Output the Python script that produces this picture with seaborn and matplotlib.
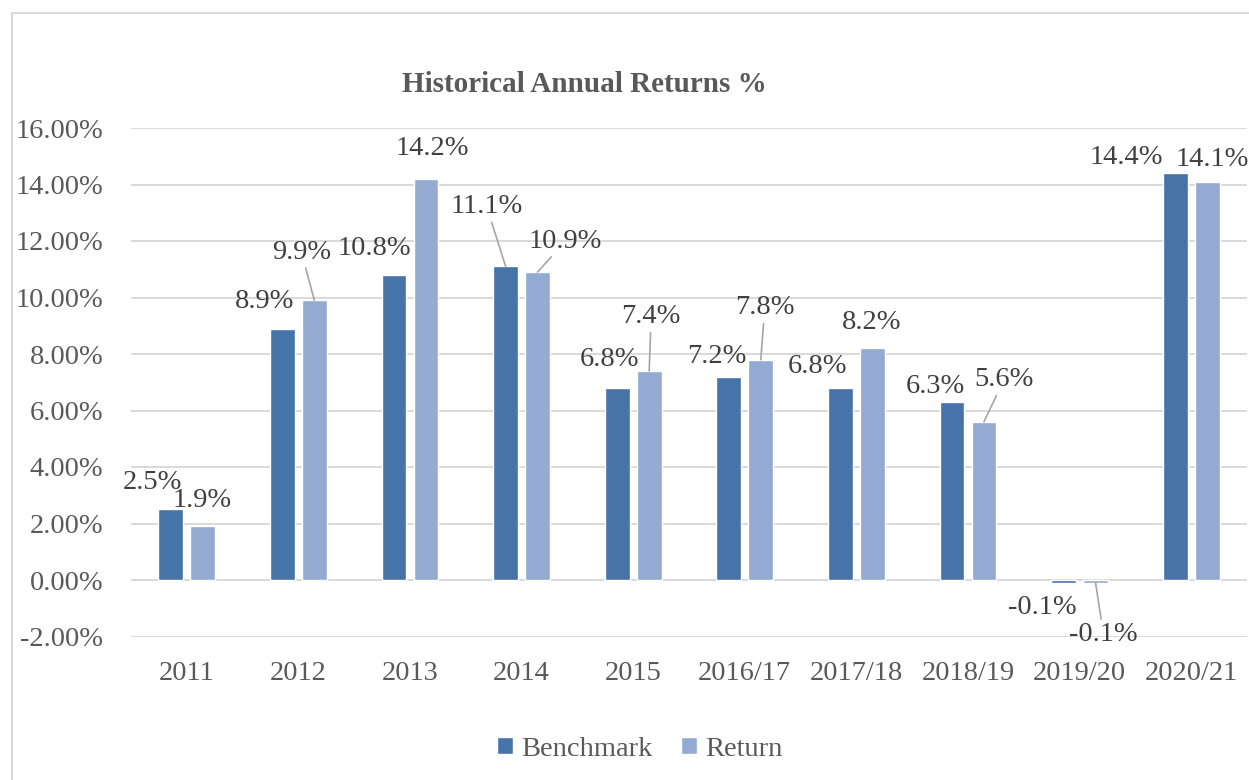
import numpy as np
import pandas as pd
import seaborn as sns
import matplotlib.pyplot as plt
from matplotlib.patches import Rectangle

periods = ['2011', '2012', '2013', '2014', '2015',
           '2016/17', '2017/18', '2018/19', '2019/20', '2020/21']
benchmark = [2.5, 8.9, 10.8, 11.1, 6.8, 7.2, 6.8, 6.3, -0.1, 14.4]
returns = [1.9, 9.9, 14.2, 10.9, 7.4, 7.8, 8.2, 5.6, -0.1, 14.1]
series = ['Benchmark', 'Return']

df = pd.DataFrame({
    'period': periods * 2,
    'value': benchmark + returns,
    'series': [series[0]] * len(periods) + [series[1]] * len(periods),
})

# label nudges in pixels (dx, dy, leader line) -- layout only
nudge = {
    'Benchmark': [(-18, -27, 0), (-18, -27, 0), (-20, -26, 0), (-19, -60, 1), (-8, -28, 0),
                  (-12, -20, 0), (-23, -21, 0), (-17, -16, 0), (-21, 25, 0), (-49, -16, 0)],
    'Return': [(-1, -26, 0), (-13, -48, 1), (6, -30, 0), (28, -31, 1), (2, -54, 1),
               (4, -52, 1), (-1, -26, 0), (20, -42, 1), (8, 52, 1), (5, -22, 0)],
}

sns.set_style('white')
plt.rcParams['font.family'] = ['Liberation Serif', 'DejaVu Serif']
FS = 20.5

fig = plt.figure(figsize=(12.49, 7.8), dpi=100)
ax = fig.add_axes([131 / 1249, 143.5 / 780, 1116 / 1249, 508.5 / 780])

sns.barplot(data=df, x='period', y='value', hue='series',
            palette=['#4673A8', '#94AAD2'], width=0.572, gap=0.22,
            saturation=1, ax=ax)

ax.set_ylim(-2, 16)
ax.set_yticks(np.arange(-2, 17, 2))
ax.set_yticklabels([f'{v:.2f}%' for v in np.arange(-2, 17, 2)])
ax.yaxis.grid(True, color='#D9D9D9', lw=1.4)
ax.set_axisbelow(True)
for s in ax.spines.values():
    s.set_visible(False)
ax.tick_params(axis='y', length=0, pad=20, labelsize=FS, labelcolor='#595959')
ax.tick_params(axis='x', length=0, pad=18, labelsize=FS, labelcolor='#595959')
ax.set_xlabel('')
ax.set_ylabel('')

for cont, name in zip(ax.containers, series):
    for bar, (dx, dy, lead) in zip(cont, nudge[name]):
        if bar.get_y() < 0:
            v = bar.get_y()
        else:
            v = bar.get_y() + bar.get_height()
        x = bar.get_x() + bar.get_width() / 2
        kw = {}
        if lead:
            kw['arrowprops'] = dict(arrowstyle='-', color='#A6A6A6', lw=1.2,
                                    shrinkA=0, shrinkB=0)
        ax.annotate(f'{v:.1f}%', xy=(x, v), xytext=(dx * 0.72, -dy * 0.72),
                    textcoords='offset points', ha='center', va='center',
                    fontsize=FS, color='#404040', **kw)

handles, labels = ax.get_legend_handles_labels()
ax.get_legend().remove()
fig.legend(handles, labels, loc='center', bbox_to_anchor=(640 / 1249, 1 - 749 / 780),
           ncol=2, frameon=False, fontsize=FS, labelcolor='#595959',
           handlelength=0.55, handleheight=0.55, handletextpad=0.3,
           columnspacing=1.0)

fig.text(584 / 1249, 1 - 85 / 780, 'Historical Annual Returns %', ha='center',
         va='center', fontsize=21, fontweight='bold', color='#595959')

fig.patches.append(Rectangle((12 / 1249, -0.1), 1.2, (767 / 780) + 0.1,
                             transform=fig.transFigure, fill=False,
                             edgecolor='#D9D9D9', lw=1.5))

fig.savefig('out.png', dpi=100)
